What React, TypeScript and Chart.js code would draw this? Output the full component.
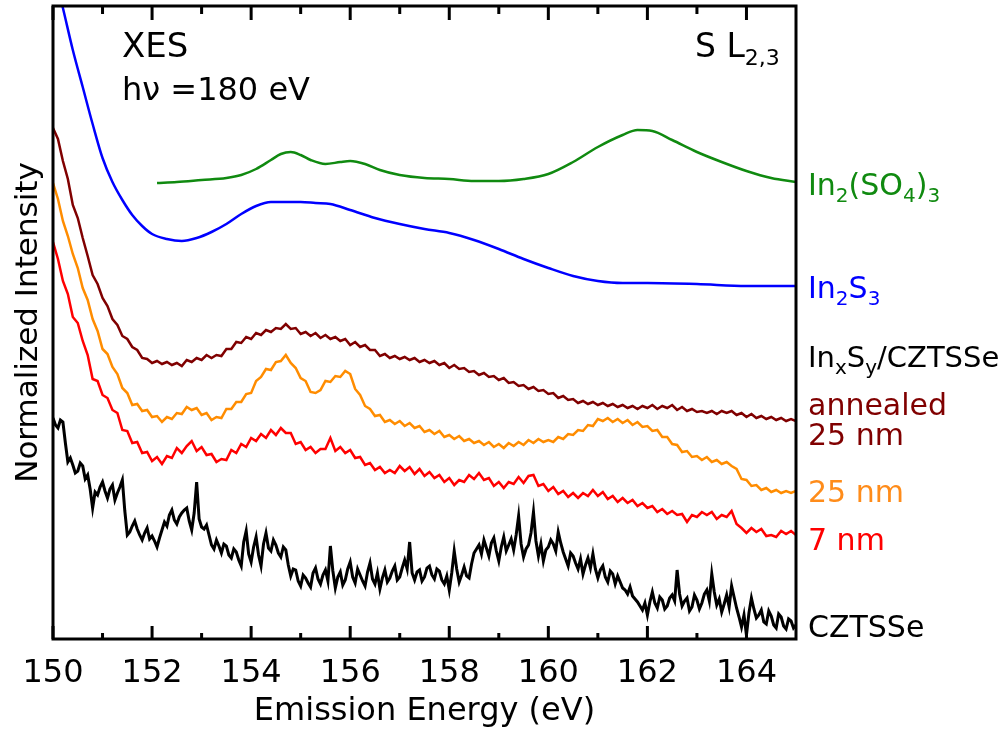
import React, { useEffect, useRef } from "react";
import { Chart, registerables } from "chart.js";

Chart.register(...registerables);

// ---------- data ----------
// energy grids (eV) of the measured spectra
const energyGrid: number[] = Array.from({ length: 151 }, (_, i) => Math.round((150 + i * 0.1) * 100) / 100);
const energyGridFine: number[] = Array.from({ length: 301 }, (_, i) => Math.round((150 + i * 0.05) * 100) / 100);

// In_xS_y/CZTSSe annealed 25 nm
const annealed25nm = [
  511, 500, 478, 460, 434, 421, 401, 383, 364, 355,
  341, 333, 320, 314, 303, 300, 292, 289, 281, 280,
  276, 278, 275, 277, 274, 276, 273, 279, 277, 281,
  279, 284, 281, 284, 283, 290, 290, 297, 296, 302,
  300, 306, 304, 309, 307, 311, 310, 315, 310, 311,
  305, 307, 303, 306, 301, 304, 300, 302, 298, 300,
  294, 297, 292, 294, 289, 289, 283, 285, 281, 283,
  280, 282, 279, 281, 277, 279, 276, 278, 274, 276,
  271, 274, 270, 271, 267, 268, 264, 266, 262, 263,
  259, 261, 256, 257, 253, 254, 250, 252, 248, 249,
  245, 246, 241, 243, 239, 240, 236, 238, 235, 237,
  234, 236, 233, 235, 232, 234, 231, 233, 230, 233,
  231, 234, 230, 233, 231, 234, 229, 232, 228, 230,
  227, 228, 226, 228, 225, 228, 226, 228, 224, 226,
  222, 225, 221, 223, 220, 222, 219, 221, 218, 220,
  218,
];

// In_xS_y/CZTSSe 25 nm
const film25nm = [
  456, 440, 418, 403, 385, 371, 351, 339, 320, 308,
  290, 285, 272, 265, 251, 246, 234, 235, 228, 229,
  222, 223, 217, 222, 220, 226, 225, 232, 229, 231,
  224, 226, 219, 222, 221, 230, 230, 237, 237, 245,
  246, 258, 262, 270, 269, 277, 278, 284, 276, 271,
  261, 258, 247, 246, 249, 258, 257, 263, 262, 268,
  265, 250, 244, 233, 230, 223, 224, 217, 219, 215,
  218, 213, 216, 211, 213, 207, 209, 205, 208, 202,
  204, 200, 203, 198, 200, 196, 198, 194, 197, 192,
  195, 191, 196, 193, 197, 194, 199, 196, 200, 197,
  199, 197, 202, 200, 205, 204, 209, 208, 214, 213,
  220, 218, 221, 217, 220, 216, 219, 214, 217, 212,
  213, 208, 209, 202, 202, 195, 194, 187, 188, 182,
  183, 179, 182, 177, 179, 175, 177, 173, 170, 160,
  159, 153, 154, 149, 151, 147, 149, 146, 148, 146,
  148,
];

// In_xS_y/CZTSSe 7 nm
const film7nm = [
  397, 380, 358, 345, 322, 316, 298, 284, 260, 258,
  244, 241, 229, 226, 209, 208, 196, 197, 186, 187,
  178, 182, 175, 183, 181, 191, 186, 193, 198, 188,
  192, 184, 185, 177, 180, 179, 189, 186, 195, 192,
  201, 198, 205, 201, 209, 204, 211, 206, 206, 195,
  197, 189, 192, 186, 190, 190, 201, 188, 192, 186,
  189, 181, 182, 174, 176, 169, 172, 166, 169, 166,
  173, 168, 172, 165, 170, 163, 167, 161, 164, 157,
  161, 154, 159, 157, 164, 160, 166, 159, 161, 153,
  157, 151, 157, 155, 162, 156, 163, 164, 153, 155,
  148, 152, 145, 148, 142, 146, 141, 146, 143, 149,
  143, 147, 140, 143, 137, 141, 136, 139, 133, 136,
  131, 133, 127, 130, 125, 128, 124, 125, 117, 124,
  122, 127, 124, 127, 120, 124, 122, 128, 115, 111,
  106, 111, 107, 110, 103, 104, 102, 108, 105, 108,
  104,
];

// bare CZTSSe absorber (0.05 eV steps)
const cztsse = [
  221, 214, 211, 219, 217, 196, 177, 181, 174, 166, 168, 176, 173, 160, 164, 150, 131, 147, 144, 152,
  157, 148, 141, 150, 154, 139, 146, 152, 159, 128, 104, 107, 113, 118, 110, 104, 99, 106, 111, 100,
  103, 98, 92, 101, 109, 117, 113, 124, 129, 119, 115, 122, 126, 129, 131, 118, 109, 126, 157, 120,
  112, 110, 114, 104, 94, 90, 99, 93, 86, 95, 93, 84, 81, 90, 87, 79, 73, 97, 108, 85,
  77, 92, 102, 84, 73, 95, 106, 91, 88, 99, 94, 86, 82, 92, 89, 74, 63, 70, 69, 58,
  53, 64, 61, 56, 52, 66, 71, 60, 55, 64, 69, 58, 93, 68, 51, 62, 67, 54, 59, 70,
  77, 62, 56, 70, 64, 58, 53, 67, 76, 60, 55, 66, 50, 61, 69, 57, 61, 68, 73, 59,
  62, 71, 79, 70, 97, 66, 59, 67, 69, 58, 62, 71, 73, 64, 60, 70, 68, 59, 55, 63,
  49, 66, 88, 70, 57, 64, 72, 63, 61, 75, 86, 90, 94, 85, 99, 91, 83, 96, 101, 88,
  78, 92, 102, 88, 94, 100, 89, 104, 123, 95, 82, 90, 94, 106, 127, 98, 83, 95, 78, 89,
  92, 99, 95, 88, 107, 96, 87, 80, 73, 86, 83, 76, 70, 80, 65, 74, 81, 71, 85, 70,
  61, 69, 73, 62, 57, 68, 65, 55, 63, 57, 51, 49, 45, 52, 43, 40, 37, 33, 29, 36,
  24, 37, 47, 36, 31, 42, 39, 30, 33, 41, 44, 38, 69, 45, 33, 38, 41, 28, 32, 44,
  39, 30, 36, 45, 49, 38, 65, 47, 34, 40, 27, 35, 44, 32, 53, 42, 31, 22, 12, 24,
  4, 26, 41, 30, 21, 24, 29, 17, 15, 28, 23, 14, 11, 25, 22, 13, 10, 20, 18, 11,
  14,
];

// In2S3 reference
const in2s3Energy = [150.1, 150.2, 150.4, 150.6, 150.8, 151, 151.2, 151.4, 151.6, 151.8, 152, 152.3, 152.6, 152.9, 153.2, 153.5, 153.8, 154.1, 154.4, 154.7, 155, 155.3, 155.6, 156, 156.5, 157, 157.5, 158, 158.5, 159, 159.5, 160, 160.5, 161, 161.5, 162, 163, 164, 165];
const in2s3 = [651, 631, 589, 552, 515, 481, 457, 439, 424, 413, 405, 400, 398, 401, 407, 415, 425, 433, 437, 437, 437, 436, 435, 429, 421, 415, 410, 406, 399, 390, 380, 371, 363, 358, 356, 356, 355, 353, 353];

// In2(SO4)3 reference
const in2so43Energy = [152.1, 152.5, 153, 153.5, 153.8, 154.1, 154.4, 154.6, 154.8, 155, 155.2, 155.5, 155.8, 156, 156.3, 156.6, 157, 157.5, 158, 158.5, 159, 159.5, 160, 160.5, 161, 161.5, 161.8, 162.1, 162.5, 163, 163.5, 164, 164.5, 165];
const in2so43 = [456, 457, 459, 461, 464, 470, 479, 485, 487, 484, 479, 475, 477, 478, 475, 469, 464, 461, 460, 458, 458, 460, 465, 477, 492, 504, 509, 508, 499, 487, 477, 468, 461, 457];

const xMajorTicks = [150, 152, 154, 156, 158, 160, 162, 164];
const xMinorTicks = [151, 153, 155, 157, 159, 161, 163];

type Part = [string, boolean];
const labelIn2SO43: Part[] = [["In", false], ["2", true], ["(SO", false], ["4", true], [")", false], ["3", true]];
const labelIn2S3: Part[] = [["In", false], ["2", true], ["S", false], ["3", true]];
const labelInxSy: Part[] = [["In", false], ["x", true], ["S", false], ["y", true], ["/CZTSSe", false]];
const labelSL: Part[] = [["S L", false], ["2,3", true]];

const FONT = "DejaVu Sans";

function drawRich(ctx: CanvasRenderingContext2D, parts: Part[], x: number, y: number, color: string, size: number, subSize: number, subDy: number) {
  ctx.fillStyle = color;
  ctx.textAlign = "left";
  ctx.textBaseline = "alphabetic";
  let cx = x;
  for (const [t, sub] of parts) {
    ctx.font = `${sub ? subSize : size}px "${FONT}"`;
    ctx.fillText(t, cx, sub ? y + subDy : y);
    cx += ctx.measureText(t).width;
  }
}

const framePlugin = {
  id: "frameAndText",
  afterDraw(chart: any) {
    const { ctx, chartArea: a } = chart;
    const xs = chart.scales.x;
    ctx.save();
    ctx.strokeStyle = "#000";
    ctx.lineWidth = 3;
    ctx.strokeRect(a.left, a.top, a.right - a.left, a.bottom - a.top);
    const tick = (v: number, lb: number, lt: number) => {
      const px = xs.getPixelForValue(v);
      ctx.beginPath();
      ctx.moveTo(px, a.bottom);
      ctx.lineTo(px, a.bottom - lb);
      ctx.moveTo(px, a.top);
      ctx.lineTo(px, a.top + lt);
      ctx.stroke();
    };
    xMajorTicks.forEach((v) => tick(v, 13, 14));
    xMinorTicks.forEach((v) => tick(v, 6, 8));

    // annotations
    ctx.fillStyle = "#000";
    ctx.textBaseline = "alphabetic";
    ctx.textAlign = "left";
    ctx.font = `34px "${FONT}"`;
    ctx.fillText("XES", 122, 57);
    ctx.font = `32px "${FONT}"`;
    ctx.fillText("hν =180 eV", 122, 100);
    drawRich(ctx, labelSL, 695, 57, "#000", 33, 22, 8);

    // curve labels
    const lx = 808;
    drawRich(ctx, labelIn2SO43, lx, 195, "#108a10", 30, 20, 7);
    drawRich(ctx, labelIn2S3, lx, 298, "#0000ff", 30, 20, 7);
    drawRich(ctx, labelInxSy, lx, 367, "#000", 29, 20, 7);
    drawRich(ctx, [["annealed", false]], lx, 415, "#800000", 30, 20, 7);
    drawRich(ctx, [["25 nm", false]], lx, 445, "#800000", 30, 20, 7);
    drawRich(ctx, [["25 nm", false]], lx, 502, "#ff8c1a", 30, 20, 7);
    drawRich(ctx, [["7 nm", false]], lx, 550, "#ff0000", 30, 20, 7);
    drawRich(ctx, [["CZTSSe", false]], lx, 637, "#000", 30, 20, 7);
    ctx.restore();
  },
};

function pts(xs: number[], ys: number[]) {
  return xs.map((x, i) => ({ x, y: ys[i] }));
}

export default function App() {
  const ref = useRef<HTMLCanvasElement | null>(null);
  useEffect(() => {
    if (!ref.current) return;
    const chart = new Chart(ref.current, {
      type: "line",
      data: {
        datasets: [
          { data: pts(in2so43Energy, in2so43), borderColor: "#108a10", borderWidth: 2.5, cubicInterpolationMode: "monotone" },
          { data: pts(in2s3Energy, in2s3), borderColor: "#0000ff", borderWidth: 2.5, cubicInterpolationMode: "monotone" },
          { data: pts(energyGrid, annealed25nm), borderColor: "#800000", borderWidth: 2.5 },
          { data: pts(energyGrid, film25nm), borderColor: "#ff8c00", borderWidth: 2.5 },
          { data: pts(energyGrid, film7nm), borderColor: "#ff0000", borderWidth: 2.5 },
          { data: pts(energyGridFine, cztsse), borderColor: "#000000", borderWidth: 3 },
        ] as any,
      },
      options: {
        animation: false,
        responsive: false,
        maintainAspectRatio: false,
        layout: { padding: { left: 0, right: 206, top: 6, bottom: 0 } },
        elements: { point: { radius: 0 }, line: { tension: 0 } },
        plugins: { legend: { display: false }, tooltip: { enabled: false } },
        scales: {
          x: {
            type: "linear",
            min: 150,
            max: 165,
            afterFit: (s: any) => { s.height = 95; },
            afterBuildTicks: (s: any) => { s.ticks = xMajorTicks.map((v) => ({ value: v })); },
            grid: { display: false, drawTicks: false },
            border: { display: false },
            ticks: { padding: 15, color: "#000", autoSkip: false, maxRotation: 0, font: { family: FONT, size: 32 }, callback: (v: any) => String(v) },
            title: { display: true, text: "Emission Energy (eV)", color: "#000", font: { family: FONT, size: 32 }, padding: { top: 0, bottom: 3 } },
          },
          y: {
            type: "linear",
            min: 0,
            max: 633,
            afterFit: (s: any) => { s.width = 53; },
            grid: { display: false, drawTicks: false },
            border: { display: false },
            ticks: { display: false },
            title: { display: true, text: "Normalized Intensity", color: "#000", font: { family: FONT, size: 31 }, padding: { top: 10, bottom: 0 } },
          },
        },
      } as any,
      plugins: [framePlugin],
    });
    return () => chart.destroy();
  }, []);
  return (
    <div style={{ position: "absolute", left: 0, top: 0, width: 1002, height: 734 }}>
      <canvas ref={ref} width={1002} height={734} style={{ display: "block" }} />
    </div>
  );
}
